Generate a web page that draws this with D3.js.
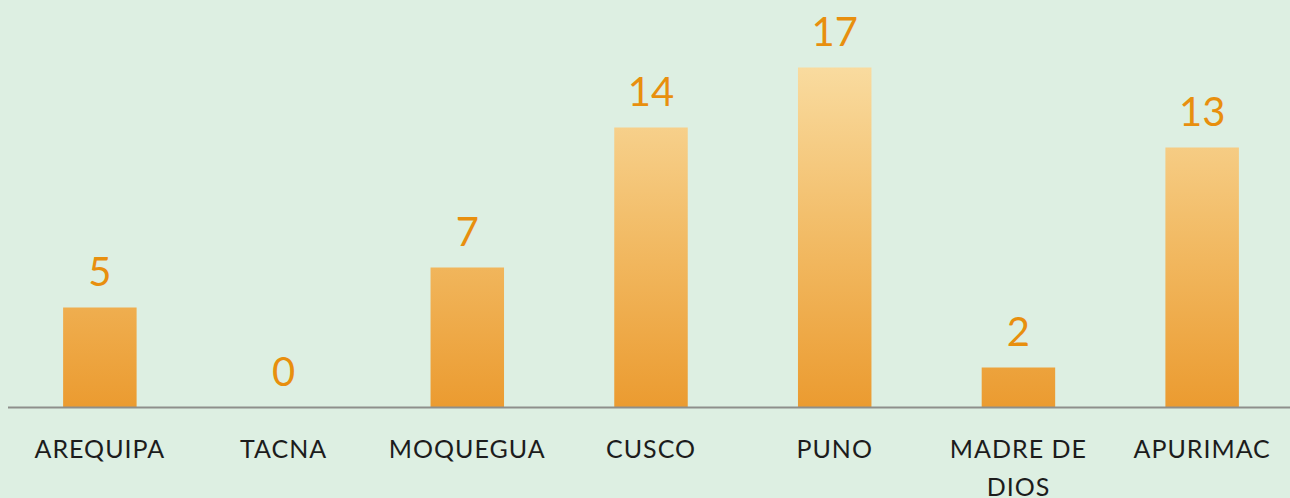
<!DOCTYPE html>
<head>
	<meta charset="utf-8">
	<script src="https://d3js.org/d3.v7.min.js"></script>
	<style>
		html, body { margin: 0; padding: 0; background: #ddefe2; }
		svg { display: block; }
		.cat { font-family: Lato, "Open Sans", sans-serif; font-size: 25px; fill: #1c1c1c; letter-spacing: 1px; }
		.val { font-family: Lato, "Open Sans", sans-serif; font-size: 40px; fill: #e88f0e; }
	</style>
</head>
<body>
	<script>
		// chart data
		var regions = ["AREQUIPA", "TACNA", "MOQUEGUA", "CUSCO", "PUNO", "MADRE DE DIOS", "APURIMAC"];
		var counts = [5, 0, 7, 14, 17, 2, 13];
		// wrapped category labels, as drawn
		var regionLines = [["AREQUIPA"], ["TACNA"], ["MOQUEGUA"], ["CUSCO"], ["PUNO"], ["MADRE DE", "DIOS"], ["APURIMAC"]];

		var w = 1290, h = 498;
		var baseY = 407.5;

		var svg = d3.select("body").append("svg")
			.attr("width", w)
			.attr("height", h);

		svg.append("rect")
			.attr("width", w).attr("height", h)
			.attr("fill", "#ddefe2");

		var xScale = d3.scaleBand()
			.domain(regions)
			.range([8, 1294])
			.paddingInner(0.6)
			.paddingOuter(0.3);

		var yScale = d3.scaleLinear()
			.domain([0, 17])
			.range([baseY, 67.5]);

		var grad = svg.append("defs").append("linearGradient")
			.attr("id", "barGrad")
			.attr("gradientUnits", "userSpaceOnUse")
			.attr("x1", 0).attr("x2", 0)
			.attr("y1", yScale(17)).attr("y2", baseY);
		grad.append("stop").attr("offset", "0%").attr("stop-color", "#f9db9f");
		grad.append("stop").attr("offset", "50%").attr("stop-color", "#f2bb65");
		grad.append("stop").attr("offset", "100%").attr("stop-color", "#eb9b30");

		var data = regions.map(function(r, i) { return {name: r, value: counts[i], lines: regionLines[i]}; });

		svg.selectAll("rect.bar")
			.data(data)
			.enter()
			.append("rect")
			.attr("class", "bar")
			.attr("x", function(d) { return xScale(d.name); })
			.attr("y", function(d) { return yScale(d.value); })
			.attr("width", xScale.bandwidth())
			.attr("height", function(d) { return baseY - yScale(d.value); })
			.attr("fill", "url(#barGrad)");

		svg.selectAll("text.val")
			.data(data)
			.enter()
			.append("text")
			.attr("class", "val")
			.attr("text-anchor", "middle")
			.attr("x", function(d) { return xScale(d.name) + xScale.bandwidth() / 2; })
			.attr("y", function(d) { return yScale(d.value) - 22; })
			.text(function(d) { return d.value; });

		// baseline
		svg.append("line")
			.attr("x1", 8).attr("x2", w)
			.attr("y1", baseY).attr("y2", baseY)
			.attr("stroke", "#8e8f8b")
			.attr("stroke-width", 2);

		var cats = svg.selectAll("text.cat")
			.data(data)
			.enter()
			.append("text")
			.attr("class", "cat")
			.attr("text-anchor", "middle")
			.attr("x", function(d) { return xScale(d.name) + xScale.bandwidth() / 2; })
			.attr("y", 458);

		cats.selectAll("tspan")
			.data(function(d) { return d.lines; })
			.enter()
			.append("tspan")
			.attr("x", function() { var p = d3.select(this.parentNode).datum(); return xScale(p.name) + xScale.bandwidth() / 2; })
			.attr("dy", function(d, i) { return i === 0 ? 0 : 38; })
			.text(function(d) { return d; });
	</script>
</body>
